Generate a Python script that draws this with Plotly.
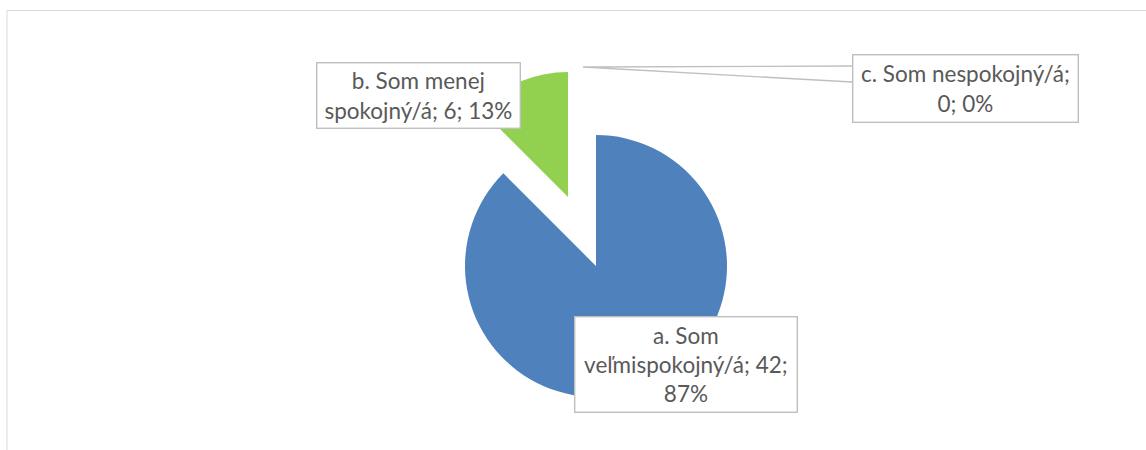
import textwrap
import plotly.graph_objects as go

# ---- data ----
categories = ["a. Som veľmispokojný/á", "b. Som menej spokojný/á", "c. Som nespokojný/á"]
counts = [42, 6, 0]
percent_labels = ["87%", "13%", "0%"]
colors = ["#4F81BD", "#92D050", "#A5A5A5"]

W, H = 1146, 450


def px_x(x):
    return x / W


def px_y(y):
    return 1 - y / H


def domain(cx, cy, r):
    return dict(x=[px_x(cx - r), px_x(cx + r)], y=[px_y(cy + r), px_y(cy - r)])


fig = go.Figure()

# main pie (blue slice visible, exploded slice hidden)
main_colors = [colors[0], "rgba(0,0,0,0)", "rgba(0,0,0,0)"]
fig.add_trace(go.Pie(
    labels=categories, values=counts, sort=False, direction="clockwise", rotation=0,
    marker=dict(colors=main_colors, line=dict(width=0)),
    textinfo="none", hoverinfo="label+value+percent", showlegend=False,
    domain=domain(596, 266, 131),
))
# exploded slice (green)
expl_colors = ["rgba(0,0,0,0)", colors[1], "rgba(0,0,0,0)"]
fig.add_trace(go.Pie(
    labels=categories, values=counts, sort=False, direction="clockwise", rotation=0,
    marker=dict(colors=expl_colors, line=dict(width=0)),
    textinfo="none", hoverinfo="label+value+percent", showlegend=False,
    domain=domain(568, 197, 125),
))

# label boxes: (center x, center y, width, height) in px
boxes = [(685.5, 364, 221, 94), (418, 95, 202, 64), (965, 88, 224, 66)]
for cat, cnt, pct, (bx, by, bw, bh) in zip(categories, counts, percent_labels, boxes):
    txt = "<br>".join(textwrap.wrap(f"{cat}; {cnt}; {pct}", width=20))
    fig.add_annotation(
        x=px_x(bx), y=px_y(by), xref="paper", yref="paper",
        xanchor="center", yanchor="middle", showarrow=False,
        text=txt, align="center", width=bw, height=bh,
        font=dict(family="Lato, Carlito, sans-serif", size=22.5, color="#595959"),
        bgcolor="white", bordercolor="#BFBFBF", borderwidth=1.4, borderpad=0,
    )

# leader line for zero slice c (callout wedge)
lx0, ly0 = px_x(583), px_y(67)
lx1 = px_x(852)
path = (f"M {lx0},{ly0} L {lx1},{px_y(66)} M {lx0},{ly0} L {lx1},{px_y(82)}")
fig.add_shape(type="path", xref="paper", yref="paper", path=path,
              line=dict(color="#BFBFBF", width=1.4), layer="below")

# chart area frame
fig.add_shape(type="rect", xref="paper", yref="paper",
              x0=px_x(7), x1=px_x(W + 20), y0=px_y(H + 20), y1=px_y(10.5),
              line=dict(color="#D9D9D9", width=1), layer="below")

fig.update_layout(
    width=W, height=H, margin=dict(l=0, r=0, t=0, b=0),
    paper_bgcolor="white", plot_bgcolor="white",
)

fig.write_html("out.html", config={"displayModeBar": False},
               post_script="document.body.style.margin='0';")
